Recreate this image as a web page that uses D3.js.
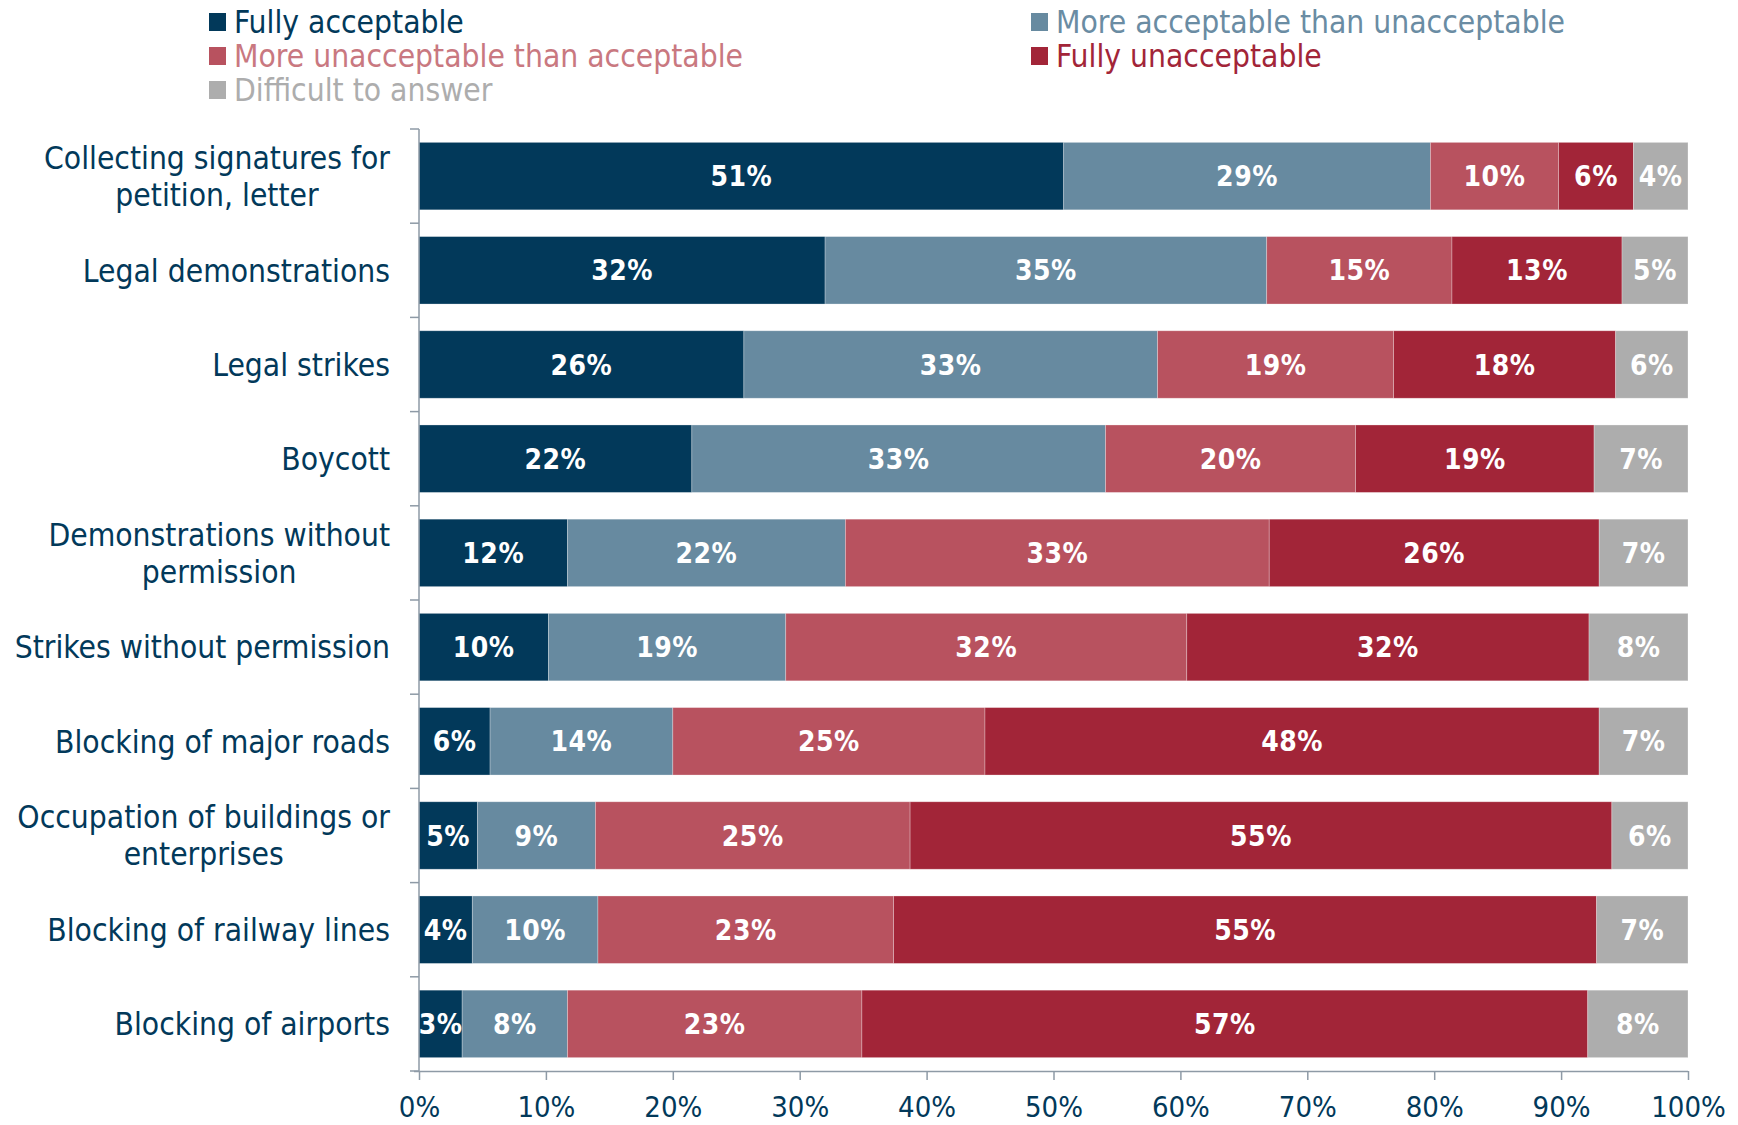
<!DOCTYPE html>
<html>
<head>
<meta charset="utf-8">
<script src="https://cdn.jsdelivr.net/npm/d3@7"></script>
<style>
  html, body { margin: 0; padding: 0; background: #fff; }
  svg { display: block; font-family: "DejaVu Sans Condensed", "DejaVu Sans", sans-serif; font-stretch: condensed; }
</style>
</head>
<body>
<svg id="chart" width="1738" height="1125"></svg>
<script>
const categories = [
  ["Collecting signatures for", "petition, letter"],
  ["Legal demonstrations"],
  ["Legal strikes"],
  ["Boycott"],
  ["Demonstrations without", "permission"],
  ["Strikes without permission"],
  ["Blocking of major roads"],
  ["Occupation of buildings or", "enterprises"],
  ["Blocking of railway lines"],
  ["Blocking of airports"]
];
const seriesNames = [
  "Fully acceptable",
  "More acceptable than unacceptable",
  "More unacceptable than acceptable",
  "Fully unacceptable",
  "Difficult to answer"
];
const fullyAcceptable      = [50.8, 32.0, 25.6, 21.5, 11.7, 10.2, 5.6, 4.6, 4.2, 3.4];
const moreAcceptable       = [28.9, 34.8, 32.6, 32.6, 21.9, 18.7, 14.4, 9.3, 9.9, 8.3];
const moreUnacceptable     = [10.1, 14.6, 18.6, 19.7, 33.4, 31.6, 24.6, 24.8, 23.3, 23.2];
const fullyUnacceptable    = [5.9, 13.4, 17.5, 18.8, 26.0, 31.7, 48.4, 55.3, 55.4, 57.2];
const difficult            = [4.3, 5.2, 5.7, 7.4, 7.0, 7.8, 7.0, 6.0, 7.2, 7.9];
const xTicks = [0, 10, 20, 30, 40, 50, 60, 70, 80, 90, 100];

const series = [fullyAcceptable, moreAcceptable, moreUnacceptable, fullyUnacceptable, difficult];
const colors = ["#02395a", "#678aa0", "#b8525f", "#a22538", "#adadad"];
const legendTextColors = ["#02395a", "#6a8ca3", "#c97880", "#a22538", "#adadad"];

const svg = d3.select("#chart");
const pLeft = 419, pRight = 1688, pTop = 129, pBottom = 1071;

const x = d3.scaleLinear().domain([0, 100]).range([pLeft, pRight]);
const y = d3.scaleBand().domain(d3.range(categories.length)).range([pTop, pBottom]).padding(0);
const bw = y.bandwidth();
const barOff = bw * 0.142, barH = bw * 0.716;

const rows = categories.map((c, i) => {
  let cum = 0;
  return series.map((s, k) => {
    const seg = { row: i, k, x0: cum, x1: cum + s[i], v: s[i] };
    cum += s[i];
    return seg;
  });
}).flat();

svg.append("g").selectAll("rect").data(rows).join("rect")
  .attr("x", d => x(d.x0))
  .attr("width", d => x(d.x1) - x(d.x0))
  .attr("y", d => y(d.row) + barOff)
  .attr("height", barH)
  .attr("fill", d => colors[d.k])
  .attr("stroke", "rgba(255,255,255,0.35)")
  .attr("stroke-width", 0.8);

svg.append("g").selectAll("text").data(rows).join("text")
  .attr("x", d => (x(d.x0) + x(d.x1)) / 2)
  .attr("y", d => y(d.row) + bw / 2)
  .attr("dy", "0.36em")
  .attr("text-anchor", "middle")
  .attr("fill", "#fff")
  .attr("font-weight", "bold")
  .attr("font-size", 28)
  .attr("letter-spacing", 0.5)
  .text(d => Math.round(d.v) + "%");

const axisColor = "#8e9aa6";
const gy = svg.append("g");
gy.append("line").attr("x1", pLeft).attr("x2", pLeft).attr("y1", pTop).attr("y2", pBottom)
  .attr("stroke", axisColor).attr("stroke-width", 1.5);
gy.selectAll("line.tk").data(d3.range(categories.length + 1)).join("line").attr("class", "tk")
  .attr("x1", pLeft - 9).attr("x2", pLeft)
  .attr("y1", i => pTop + i * bw).attr("y2", i => pTop + i * bw)
  .attr("stroke", axisColor).attr("stroke-width", 1.5);

// category labels: right edge of longest line at labelRight, lines centred to each other
const labelRight = 390;
const labelG = svg.append("g");
categories.forEach((lines, i) => {
  const cy = y(i) + bw / 2;
  const lh = 37;
  const t = labelG.append("text")
    .attr("text-anchor", "middle")
    .attr("fill", "#02395a").attr("font-size", 31.5);
  const spans = lines.map((ln, j) => t.append("tspan")
      .attr("y", cy + (j - (lines.length - 1) / 2) * lh)
      .attr("dy", "0.36em").text(ln));
  const maxW = d3.max(spans, s => s.node().getComputedTextLength());
  spans.forEach(s => s.attr("x", labelRight - maxW / 2));
});

const xAxis = d3.axisBottom(x).tickValues(xTicks).tickSize(9).tickFormat(d => d + "%");
const gx = svg.append("g").attr("transform", `translate(0,${pBottom})`).call(xAxis);
gx.select(".domain").attr("stroke", axisColor).attr("stroke-width", 1.5)
  .attr("d", `M${pLeft - 5},0.5H${pRight}`);
gx.selectAll(".tick line").attr("stroke", axisColor).attr("stroke-width", 1.5);
gx.selectAll(".tick text").attr("fill", "#02395a").attr("font-size", 29)
  .attr("font-family", "\"DejaVu Sans Condensed\", \"DejaVu Sans\", sans-serif")
  .attr("y", 0).attr("dy", 0)
  .attr("transform", "translate(0,46)");

const legendPos = [
  [209, 22], [1031, 22],
  [209, 56], [1031, 56],
  [209, 90]
];
const lg = svg.append("g");
seriesNames.forEach((name, k) => {
  const [lx, ly] = legendPos[k];
  lg.append("rect").attr("x", lx).attr("y", ly - 9).attr("width", 17).attr("height", 18)
    .attr("fill", colors[k]);
  lg.append("text").attr("x", lx + 25).attr("y", ly).attr("dy", "0.36em")
    .attr("font-size", 31.5).attr("fill", legendTextColors[k]).text(name);
});
</script>
</body>
</html>
